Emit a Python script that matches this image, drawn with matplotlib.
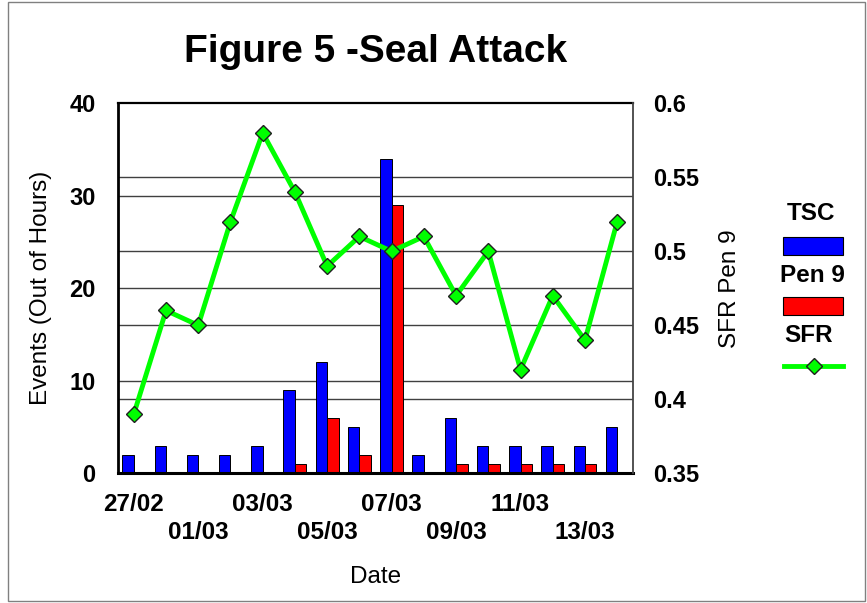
import matplotlib
matplotlib.use("Agg")
import matplotlib.pyplot as plt
import matplotlib.transforms as mtransforms
from matplotlib.patches import Rectangle
from matplotlib.lines import Line2D
import numpy as np

plt.rcParams['font.family'] = ['Liberation Sans', 'DejaVu Sans']

# data
dates = ['27/02', '28/02', '01/03', '02/03', '03/03', '04/03', '05/03', '06/03',
         '07/03', '08/03', '09/03', '10/03', '11/03', '12/03', '13/03', '14/03']
tsc = [2, 3, 2, 2, 3, 9, 12, 5, 34, 2, 6, 3, 3, 3, 3, 5]
pen9 = [0, 0, 0, 0, 0, 1, 6, 2, 29, 0, 1, 1, 1, 1, 1, 0]
sfr = [0.39, 0.46, 0.45, 0.52, 0.58, 0.54, 0.49, 0.51,
       0.50, 0.51, 0.47, 0.50, 0.42, 0.47, 0.44, 0.52]
left_ticks = [0, 10, 20, 30, 40]
right_ticks = [0.35, 0.4, 0.45, 0.5, 0.55, 0.6]
right_labels = ['0.35', '0.4', '0.45', '0.5', '0.55', '0.6']

W, H = 867, 603
fig = plt.figure(figsize=(W / 100, H / 100), dpi=100)
ax = fig.add_axes([117.7 / W, 1 - 473.3 / H, 515.6 / W, 370 / H])
ax_r = ax.twinx()

x = np.arange(len(dates))
w = 0.355
ax.bar(x - w / 2, tsc, w, color='#0000FF', edgecolor='black', linewidth=0.7, zorder=2)
ax.bar(x + w / 2, pen9, w, color='#FF0000', edgecolor='black', linewidth=0.7, zorder=2)
ax.set_xlim(-0.5, len(dates) - 0.5)
ax.set_ylim(0, 40)
ax.set_yticks(left_ticks)
ax_r.set_ylim(0.35, 0.6)
ax_r.set_yticks(right_ticks)
ax_r.set_yticklabels(right_labels)

# gridlines from both axes, behind the bars
grid_c = '#404040'
for v in left_ticks[1:-1]:
    ax.axhline(v, color=grid_c, lw=1, zorder=0.5)
blend = mtransforms.blended_transform_factory(ax.transAxes, ax_r.transData)
for v in right_ticks[1:-1]:
    ax.plot([0, 1], [v, v], transform=blend, color=grid_c, lw=1, zorder=0.5)

ax_r.plot(x, sfr, color='#00FF00', lw=3.5, marker='D', markersize=8,
          markerfacecolor='#00FF00', markeredgecolor='#202020', markeredgewidth=1, zorder=3)

# x tick labels on two alternating rows
ticks = x[::2]
labels = []
for k, i in enumerate(ticks):
    labels.append(dates[i] if k % 2 == 0 else '\n' + dates[i])
ax.set_xticks(ticks)
ax.set_xticklabels(labels, fontsize=17.5, fontweight='bold', linespacing=1.3)
ax.tick_params(axis='x', length=0, pad=14)
ax.tick_params(axis='y', length=0, pad=16, labelsize=17)
for lab in ax.get_yticklabels():
    lab.set_fontweight('bold')
ax_r.tick_params(axis='y', length=0, pad=14, labelsize=17)
for lab in ax_r.get_yticklabels():
    lab.set_fontweight('bold')

# spines
ax.spines['left'].set_linewidth(2)
ax.spines['bottom'].set_linewidth(2.2)
ax.spines['top'].set_linewidth(1.6)
ax.spines['right'].set_visible(False)
for s in ['left', 'top', 'bottom']:
    ax_r.spines[s].set_visible(False)
ax_r.spines['right'].set_color('#444444')
ax_r.spines['right'].set_linewidth(1.3)

ax.set_ylabel('Events (Out of Hours)', fontsize=17.5)
ax.yaxis.set_label_coords(-0.127, 0.5)
ax_r.set_ylabel('SFR Pen 9', fontsize=17.5)
ax_r.yaxis.set_label_coords(1.166, 0.5)
ax.set_xlabel('Date', fontsize=17.5)
ax.xaxis.set_label_coords(0.5, -0.25)
ax.set_title('Figure 5 -Seal Attack', fontsize=28, fontweight='bold', pad=30)

# legend drawn by hand (labels above their keys)
def fx(px):
    return px / W

def fy(py):
    return 1 - py / H

fig.text(fx(811), fy(214), 'TSC', fontsize=17.5, fontweight='bold', ha='center', va='center')
fig.add_artist(Rectangle((fx(783), fy(255)), 60 / W, 18 / H, transform=fig.transFigure,
                         facecolor='#0000FF', edgecolor='black', lw=0.8))
fig.text(fx(812), fy(275), 'Pen 9', fontsize=17.5, fontweight='bold', ha='center', va='center')
fig.add_artist(Rectangle((fx(783), fy(315)), 60 / W, 18 / H, transform=fig.transFigure,
                         facecolor='#FF0000', edgecolor='black', lw=0.8))
fig.text(fx(809), fy(336), 'SFR', fontsize=17.5, fontweight='bold', ha='center', va='center')
fig.add_artist(Line2D([fx(784), fx(843)], [fy(366), fy(366)], transform=fig.transFigure,
                      color='#00FF00', lw=3.5))
fig.add_artist(Line2D([fx(814)], [fy(366)], transform=fig.transFigure, marker='D',
                      markersize=8, markerfacecolor='#00FF00', markeredgecolor='#202020',
                      markeredgewidth=1))

# outer border
fig.add_artist(Rectangle((fx(8), fy(601)), 857 / W, 599 / H, transform=fig.transFigure,
                         facecolor='none', edgecolor='#808080', lw=1))

fig.savefig('out.png', dpi=100)
